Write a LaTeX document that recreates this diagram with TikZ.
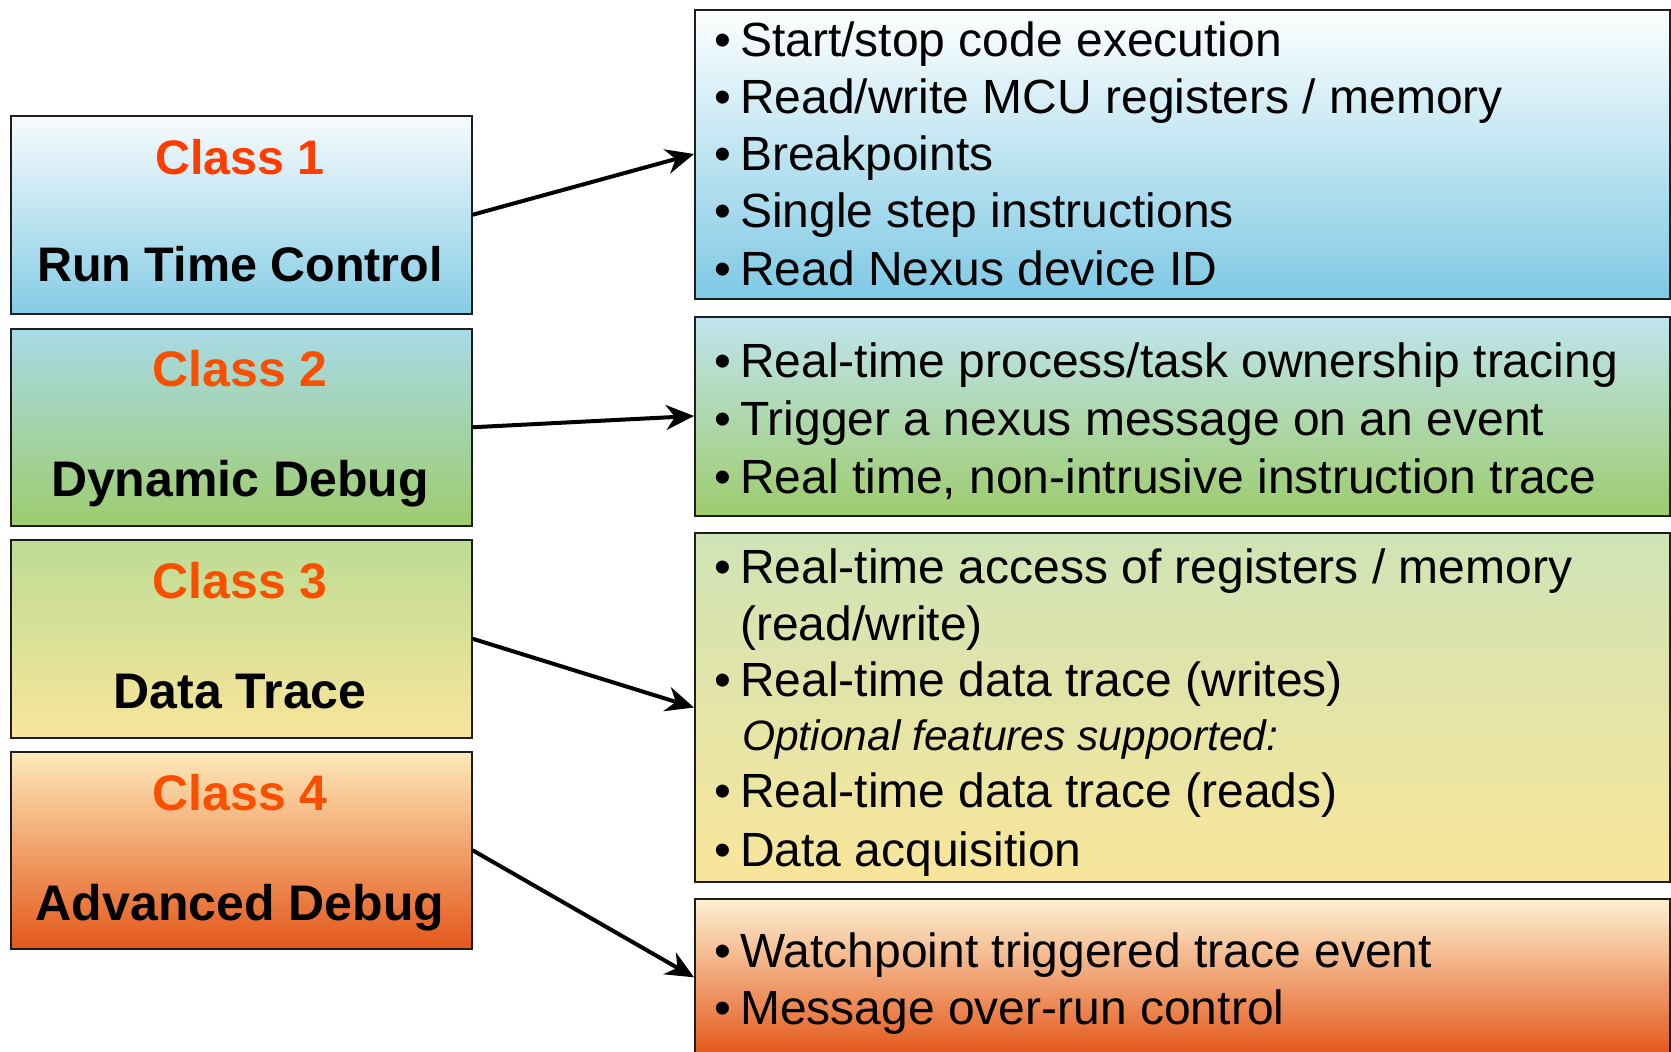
\documentclass[tikz,border=0pt]{standalone}
\usepackage{fontspec}
\setmainfont{Liberation Sans}
\usetikzlibrary{arrows.meta}

% gradient ends of the class boxes
\definecolor{bluetop}{RGB}{247,251,253}
\definecolor{bluebot}{RGB}{133,204,229}
\definecolor{cyantop}{RGB}{168,218,230}
\definecolor{greenbot}{RGB}{158,204,110}
\definecolor{limetop}{RGB}{189,220,149}
\definecolor{yellowbot}{RGB}{249,229,154}
\definecolor{creamtop}{RGB}{254,234,186}
\definecolor{orangebot}{RGB}{228,87,26}
% gradient ends of the feature lists
\definecolor{lbluetop}{RGB}{254,255,255}
\definecolor{lbluebot}{RGB}{127,201,228}
\definecolor{lcyantop}{RGB}{191,228,238}
\definecolor{llimetop}{RGB}{207,228,182}
\definecolor{lcreamtop}{RGB}{253,241,210}
\definecolor{classred}{RGB}{255,61,0}
\definecolor{classorange}{RGB}{249,80,0}
\definecolor{frame}{RGB}{30,30,30}

\newcommand\itm{\llap{•\hspace{9pt}}}

\begin{document}
\begin{tikzpicture}[x=1pt,y=-1pt,
  classbox/.style={draw=frame, line width=2pt, minimum width=461pt,
    minimum height=197.5pt, anchor=north west, inner sep=0pt},
  listbox/.style={draw=frame, line width=2pt, minimum width=975pt,
    anchor=north west, inner sep=0pt},
  ctitle/.style={anchor=base, inner sep=0pt,
    font=\fontsize{50}{50}\selectfont\bfseries},
  csub/.style={anchor=base, inner sep=0pt,
    font=\fontsize{50}{50}\selectfont\bfseries},
  small/.style={font=\fontsize{48.5}{48.5}\selectfont\bfseries},
  item/.style={anchor=base west, inner sep=0pt,
    font=\fontsize{48}{48}\selectfont},
  note/.style={anchor=base west, inner sep=0pt,
    font=\fontsize{42.5}{42.5}\selectfont\itshape},
  link/.style={line width=4pt, draw=black,
    -{Stealth[length=28pt,width=25pt,inset=9pt]}}
]
\useasboundingbox (0,0) rectangle (1671,1052);

% class boxes on the left
\node[classbox, top color=bluetop, bottom color=bluebot] (b1) at (9.6,115) {};
\node[classbox, top color=cyantop, bottom color=greenbot] (b2) at (9.6,327.5) {};
\node[classbox, top color=limetop, bottom color=yellowbot] (b3) at (9.6,539) {};
\node[classbox, top color=creamtop, bottom color=orangebot] (b4) at (9.6,750.5) {};

\node[ctitle, small, text=classred] (t1) at (240,174) {Class 1};
\node[csub, small] (s1) at (240,281) {Run Time Control};
\node[ctitle, text=classorange] (t2) at (240,386) {Class 2};
\node[csub] (s2) at (240,496) {Dynamic Debug};
\node[ctitle, text=classorange] (t3) at (240,598) {Class 3};
\node[csub] (s3) at (240,708) {Data Trace};
\node[ctitle, text=classorange] (t4) at (240,810) {Class 4};
\node[csub] (s4) at (240,920) {Advanced Debug};

% feature lists on the right
\node[listbox, minimum height=289pt, top color=lbluetop, bottom color=lbluebot] (r1) at (694,8.5) {};
\node[listbox, minimum height=199pt, top color=lcyantop, bottom color=greenbot] (r2) at (694,315.5) {};
\node[listbox, minimum height=349pt, top color=llimetop, bottom color=yellowbot] (r3) at (694,532) {};
\node[listbox, minimum height=156pt, top color=lcreamtop, bottom color=orangebot] (r4) at (694,898.3) {};

\node[item] (r1a) at (740,56) {\itm Start/stop code execution};
\node[item] (r1b) at (740,113) {\itm Read/write MCU registers / memory};
\node[item] (r1c) at (740,170) {\itm Breakpoints};
\node[item] (r1d) at (740,227) {\itm Single step instructions};
\node[item] (r1e) at (740,285) {\itm Read Nexus device ID};

\node[item] (r2a) at (740,377) {\itm Real-time process/task ownership tracing};
\node[item] (r2b) at (740,435) {\itm Trigger a nexus message on an event};
\node[item] (r2c) at (740,493) {\itm Real time, non-intrusive instruction trace};

\node[item] (r3a) at (740,583) {\itm Real-time access of registers / memory};
\node[item] (r3b) at (740,640) {(read/write)};
\node[item] (r3c) at (740,696) {\itm Real-time data trace (writes)};
\node[note] (r3d) at (742,750) {Optional features supported:};
\node[item] (r3e) at (740,807) {\itm Real-time data trace (reads)};
\node[item] (r3f) at (740,866) {\itm Data acquisition};

\node[item] (r4a) at (740,967) {\itm Watchpoint triggered trace event};
\node[item] (r4b) at (740,1024) {\itm Message over-run control};

% connectors
\draw[link] (b1.east) -- (r1.west);
\draw[link] (b2.east) -- (r2.west);
\draw[link] (b3.east) -- (r3.west);
\draw[link] (b4.east) -- (r4.west);
\end{tikzpicture}
\end{document}
